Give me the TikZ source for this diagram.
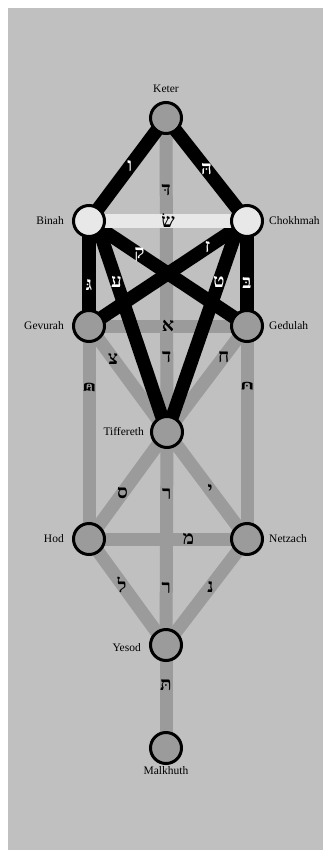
\documentclass[tikz,border=0pt]{standalone}
\usepackage{fontspec}
\setmainfont{Liberation Serif}
\newfontfamily\hebfont[Script=Hebrew]{Liberation Serif}
\usepackage{tikz}
\usetikzlibrary{positioning, backgrounds}
\definecolor{canvasgray}{RGB}{192, 192, 192}
\definecolor{pathgray}{RGB}{155, 155, 155}
\definecolor{pathlight}{RGB}{232, 232, 232}

\begin{document}
\begin{tikzpicture}[x=1pt, y=-1pt,
    sefira/.style={circle, draw=black, line width=3pt, fill=pathgray, minimum size=31pt, inner sep=0pt},
    sefiraname/.style={font=\fontsize{11.5}{12}\selectfont, inner sep=1pt},
    graypath/.style={draw=pathgray, line width=13pt},
    blackpath/.style={draw=black, line width=13.5pt},
    lightpath/.style={draw=pathlight, line width=14pt},
    letter/.style={font=\hebfont\bfseries\fontsize{19}{19}\selectfont, inner sep=0pt},
    onblack/.style={letter, text=white}
]
\useasboundingbox (0,0) rectangle (323,850);

\node (KETER)     [sefira] at (166,118) {};
\node (BINAH)     [sefira, fill=pathlight] at (89,221) {};
\node (CHOKHMAH)  [sefira, fill=pathlight] at (247,221) {};
\node (GEVURAH)   [sefira] at (89,326) {};
\node (GEDULAH)   [sefira] at (247,326) {};
\node (TIFFERETH) [sefira] at (167,432) {};
\node (HOD)       [sefira] at (89,539) {};
\node (NETZACH)   [sefira] at (247,539) {};
\node (YESOD)     [sefira] at (166,645) {};
\node (MALKHUTH)  [sefira] at (166,748) {};

\node [sefiraname, above=7pt of KETER] {Keter};
\node [sefiraname, left=7pt of BINAH] {Binah};
\node [sefiraname, right=4pt of CHOKHMAH] {Chokhmah};
\node [sefiraname, left=7pt of GEVURAH] {Gevurah};
\node [sefiraname, right=4pt of GEDULAH] {Gedulah};
\node [sefiraname, left=5pt of TIFFERETH] {Tiffereth};
\node [sefiraname, left=7pt of HOD] {Hod};
\node [sefiraname, right=4pt of NETZACH] {Netzach};
\node [sefiraname, left=7pt of YESOD, yshift=-3pt] {Yesod};
\node [sefiraname, below=0pt of MALKHUTH] {Malkhuth};

\begin{scope}[on background layer]
\fill [canvasgray] (8,8) rectangle (323,850);

% grey paths
\draw [graypath] (KETER.center) -- node[letter, pos=0.23] {דּ} node[letter, pos=0.76] {ד} (TIFFERETH.center);
\draw [graypath] (TIFFERETH.center) -- node[letter, pos=0.29] {ר} node[letter, pos=0.73] {ר} (YESOD.center);
\draw [graypath] (YESOD.center) -- node[letter, pos=0.39] {תּ} (MALKHUTH.center);
\draw [graypath] (GEVURAH.center) -- node[letter, pos=0.5] {א} (GEDULAH.center);
\draw [graypath] (GEVURAH.center) -- node[letter, pos=0.31] {צ} (TIFFERETH.center);
\draw [graypath] (GEDULAH.center) -- node[letter, pos=0.29] {ח} (TIFFERETH.center);
\draw [graypath] (GEVURAH.center) -- node[letter, pos=0.29, rotate=90] {פּ} (HOD.center);
\draw [graypath] (GEDULAH.center) -- node[letter, pos=0.28, rotate=90] {כּ} (NETZACH.center);
\draw [graypath] (TIFFERETH.center) -- node[letter, pos=0.57] {ס} (HOD.center);
\draw [graypath] (TIFFERETH.center) -- node[letter, pos=0.54] {י} (NETZACH.center);
\draw [graypath] (HOD.center) -- node[letter, pos=0.63] {מ} (NETZACH.center);
\draw [graypath] (HOD.center) -- node[letter, pos=0.43] {ל} (YESOD.center);
\draw [graypath] (NETZACH.center) -- node[letter, pos=0.45] {נ} (YESOD.center);

% black paths
\draw [blackpath] (KETER.center) -- node[onblack, pos=0.47] {ו} (BINAH.center);
\draw [blackpath] (KETER.center) -- node[onblack, pos=0.5] {הּ} (CHOKHMAH.center);
\draw [blackpath] (BINAH.center) -- node[onblack, pos=0.61] {גּ} (GEVURAH.center);
\draw [blackpath] (CHOKHMAH.center) -- node[onblack, pos=0.59] {בּ} (GEDULAH.center);
\draw [blackpath] (BINAH.center) -- node[onblack, pos=0.32] {ק} (GEDULAH.center);
\draw [blackpath] (CHOKHMAH.center) -- node[onblack, pos=0.25] {ז} (GEVURAH.center);
\draw [blackpath] ([xshift=7pt]BINAH.center) -- node[onblack, pos=0.29] {ע} (TIFFERETH.center);
\draw [blackpath] ([xshift=-7pt]CHOKHMAH.center) -- node[onblack, pos=0.29] {ט} (TIFFERETH.center);

% light path
\draw [lightpath] (BINAH.center) -- node[letter, pos=0.5] {שׂ} (CHOKHMAH.center);
\end{scope}

\end{tikzpicture}
\end{document}
